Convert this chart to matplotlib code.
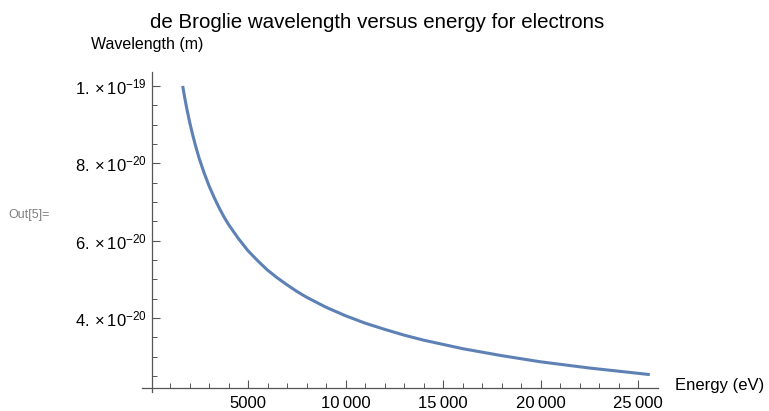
import matplotlib
matplotlib.use('Agg')
import matplotlib.pyplot as plt
from matplotlib.ticker import FixedLocator

plt.rcParams['font.family'] = ['Liberation Sans', 'DejaVu Sans']
plt.rcParams['mathtext.fontset'] = 'custom'
plt.rcParams['mathtext.rm'] = 'Liberation Sans'
plt.rcParams['mathtext.it'] = 'Liberation Sans'

# values
energy = [1650, 1750, 1850, 2000, 2150, 2300, 2500, 2750, 3000, 3250, 3500, 3750, 4000,
          4500, 5000, 5500, 6000, 6500, 7000, 7500, 8000, 9000, 10000, 11000, 12000,
          13000, 14000, 15000, 16000, 18000, 20000, 22500, 25600]
wavelength = [1.000e-19, 9.71e-20, 9.44e-20, 9.08e-20, 8.76e-20, 8.47e-20, 8.12e-20,
              7.75e-20, 7.42e-20, 7.13e-20, 6.87e-20, 6.63e-20, 6.42e-20, 6.06e-20,
              5.74e-20, 5.48e-20, 5.24e-20, 5.04e-20, 4.86e-20, 4.69e-20, 4.54e-20,
              4.28e-20, 4.06e-20, 3.87e-20, 3.71e-20, 3.56e-20, 3.43e-20, 3.32e-20,
              3.21e-20, 3.03e-20, 2.87e-20, 2.71e-20, 2.54e-20]

xticks = [5000, 10000, 15000, 20000, 25000]
xticklabels = ['5000', '10\u2009000', '15\u2009000', '20\u2009000', '25\u2009000']
yticks = [4e-20, 6e-20, 8e-20, 1e-19]
yticklabels = [r'$4.\times10^{-20}$', r'$6.\times10^{-20}$', r'$8.\times10^{-20}$', r'$1.\times10^{-19}$']

W, H = 769, 411
fig = plt.figure(figsize=(W / 100, H / 100), dpi=100)

# pixel geometry of the axes box
left_px, right_px, top_px, bottom_px = 142, 658, 72, 392
ax = fig.add_axes([left_px / W, 1 - bottom_px / H, (right_px - left_px) / W, (bottom_px - top_px) / H])

ax.plot(energy, wavelength, color='#5E81B5', lw=2.2, solid_capstyle='butt', solid_joinstyle='round')

ax.set_xlim(-436, 26020)
ax.set_ylim(2.09e-20, 1.036e-19)

for s in ['top', 'right']:
    ax.spines[s].set_visible(False)
ax.spines['left'].set_position(('data', 77))
ax.spines['bottom'].set_position(('data', 2.19e-20))
for s in ['left', 'bottom']:
    ax.spines[s].set_color('#555555')
    ax.spines[s].set_linewidth(0.9)

ax.xaxis.set_major_locator(FixedLocator(xticks))
ax.set_xticklabels(xticklabels)
ax.xaxis.set_minor_locator(FixedLocator([v for v in range(1000, 26000, 1000) if v % 5000]))
ax.yaxis.set_major_locator(FixedLocator(yticks))
ax.set_yticklabels(yticklabels)
ax.yaxis.set_minor_locator(FixedLocator([2.5e-20, 3e-20, 3.5e-20, 4.5e-20, 5e-20, 5.5e-20,
                                         6.5e-20, 7e-20, 7.5e-20, 8.5e-20, 9e-20, 9.5e-20]))
ax.tick_params(which='major', direction='in', length=6, width=0.8, color='#555555',
               labelsize=12, labelcolor='black')
ax.tick_params(which='minor', direction='in', length=3.5, width=0.7, color='#555555')
ax.tick_params(axis='x', which='major', pad=6)
ax.tick_params(axis='y', which='major', pad=4)

fig.text(377 / W, 1 - 22 / H, 'de Broglie wavelength versus energy for electrons',
         ha='center', va='center', fontsize=14.8)
fig.text(91 / W, 1 - 45 / H, 'Wavelength (m)', ha='left', va='center', fontsize=11.5)
fig.text(675 / W, 1 - 385 / H, 'Energy (eV)', ha='left', va='center', fontsize=12)
fig.text(8 / W, 1 - 215 / H, 'Out[5]=', ha='left', va='center', fontsize=9, color='#808080')

fig.savefig('out.png', dpi=100)
